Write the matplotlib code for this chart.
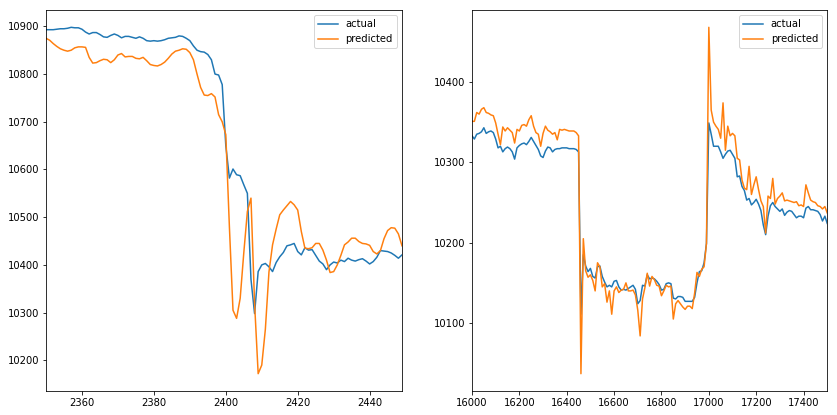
import numpy as np
import matplotlib
matplotlib.use("Agg")
import matplotlib.pyplot as plt

# left panel: steps 2350..2449
left_x = np.arange(2350, 2450)
left_actual = [
    10893, 10893, 10893, 10894, 10895, 10895, 10896, 10898, 10897, 10897,
    10894, 10888, 10884, 10887, 10887, 10883, 10878, 10877, 10881, 10884,
    10881, 10876, 10879, 10879, 10877, 10875, 10878, 10875, 10870, 10869,
    10870, 10869, 10870, 10872, 10875, 10876, 10877, 10880, 10879, 10875,
    10870, 10859, 10850, 10847, 10846, 10841, 10830, 10800, 10798, 10778,
    10650, 10582, 10601, 10589, 10587, 10568, 10550, 10370, 10298, 10386,
    10400, 10403, 10396, 10386, 10405, 10417, 10426, 10440, 10442, 10445,
    10428, 10421, 10436, 10431, 10432, 10420, 10408, 10402, 10390, 10400,
    10406, 10404, 10410, 10407, 10414, 10410, 10408, 10411, 10413, 10408,
    10402, 10407, 10416, 10430, 10429, 10428, 10425, 10420, 10414, 10421,
]
left_pred = [
    10875, 10871, 10864, 10858, 10853, 10850, 10848, 10850, 10855, 10857,
    10857, 10856, 10835, 10823, 10824, 10828, 10831, 10830, 10824, 10830,
    10840, 10843, 10836, 10837, 10837, 10833, 10832, 10835, 10828, 10820,
    10818, 10817, 10820, 10825, 10833, 10842, 10848, 10850, 10853, 10852,
    10845, 10830, 10800, 10772, 10756, 10755, 10759, 10752, 10715, 10700,
    10673, 10480, 10305, 10288, 10330, 10425, 10512, 10540, 10320, 10172,
    10190, 10265, 10385, 10442, 10475, 10505, 10515, 10524, 10533, 10526,
    10515, 10470, 10435, 10434, 10436, 10445, 10445, 10431, 10410, 10384,
    10386, 10400, 10420, 10442, 10448, 10456, 10456, 10449, 10445, 10444,
    10441, 10428, 10423, 10430, 10455, 10472, 10478, 10477, 10465, 10440,
]

# right panel: every 10th step 16000..17500
right_x = np.arange(16000, 17501, 10)
right_actual = [
    10333, 10329, 10335, 10336, 10338, 10343, 10336, 10338, 10339, 10337,
    10329, 10318, 10320, 10313, 10317, 10319, 10317, 10313, 10304, 10318,
    10321, 10323, 10324, 10322, 10326, 10331, 10326, 10321, 10316, 10308,
    10306, 10314, 10319, 10318, 10313, 10316, 10317, 10317, 10318, 10318,
    10318, 10317, 10317, 10317, 10316, 10313,
    10111, 10185, 10171, 10164, 10168, 10158, 10156, 10170, 10171, 10158,
    10151, 10145, 10147, 10145, 10152, 10153, 10145, 10141, 10142, 10141,
    10143, 10145, 10147, 10142, 10124, 10128, 10147, 10146, 10160, 10155,
    10156, 10155, 10152, 10148, 10141, 10142, 10149, 10150, 10149, 10131,
    10130, 10133, 10133, 10132, 10127, 10127, 10127, 10127, 10132, 10150,
    10164, 10165, 10175, 10199,
    10349, 10335, 10320, 10320, 10320, 10313, 10305, 10310, 10314, 10315,
    10310, 10305, 10282, 10283, 10270, 10265, 10253, 10255, 10247, 10250,
    10254, 10248, 10240, 10222, 10210, 10233, 10246, 10250, 10245, 10242,
    10239, 10242, 10234, 10238, 10240, 10239, 10235, 10231, 10233, 10233,
    10231, 10243, 10245, 10241, 10241, 10240, 10239, 10235, 10227, 10233,
    10224,
]
right_pred = [
    10351, 10351, 10362, 10360, 10366, 10368, 10362, 10361, 10359, 10358,
    10349, 10335, 10322, 10344, 10339, 10343, 10340, 10337, 10324, 10341,
    10339, 10346, 10347, 10345, 10353, 10358, 10345, 10337, 10335, 10320,
    10336, 10345, 10340, 10338, 10335, 10337, 10328, 10341, 10340, 10341,
    10340, 10339, 10339, 10339, 10337, 10333,
    10037, 10205, 10165, 10157, 10160, 10153, 10140, 10175, 10170, 10145,
    10149, 10126, 10140, 10111, 10140, 10145, 10138, 10141, 10142, 10150,
    10140, 10140, 10141, 10135, 10116, 10084, 10130, 10144, 10162, 10146,
    10158, 10154, 10147, 10146, 10134, 10140, 10147, 10145, 10146, 10105,
    10124, 10128, 10124, 10120, 10117, 10121, 10121, 10118, 10137, 10163,
    10158, 10167, 10170, 10199,
    10468, 10365, 10350, 10345, 10341, 10330, 10374, 10315, 10345, 10333,
    10336, 10333, 10305, 10303, 10278, 10268, 10266, 10295, 10260, 10272,
    10282, 10266, 10252, 10245, 10212, 10258, 10255, 10280, 10248, 10255,
    10258, 10262, 10252, 10253, 10252, 10251, 10250, 10251, 10246, 10247,
    10245, 10272, 10262, 10253, 10251, 10250, 10246, 10245, 10242, 10245,
    10237,
]

fig = plt.figure(figsize=(837 / 72, 415 / 72), dpi=72)
ax1 = fig.add_axes([46 / 837, 24 / 415, 356 / 837, 381 / 415])
ax2 = fig.add_axes([472 / 837, 24 / 415, 355 / 837, 381 / 415])

ax1.plot(left_x, left_actual, label="actual")
ax1.plot(left_x, left_pred, label="predicted")
ax1.set_xlim(2350, 2449)
ax1.legend(loc="upper right")

ax2.plot(right_x, right_actual, label="actual")
ax2.plot(right_x, right_pred, label="predicted")
ax2.set_xlim(16000, 17499)
ax2.legend(loc="upper right")

fig.savefig("out.png", dpi=72)
